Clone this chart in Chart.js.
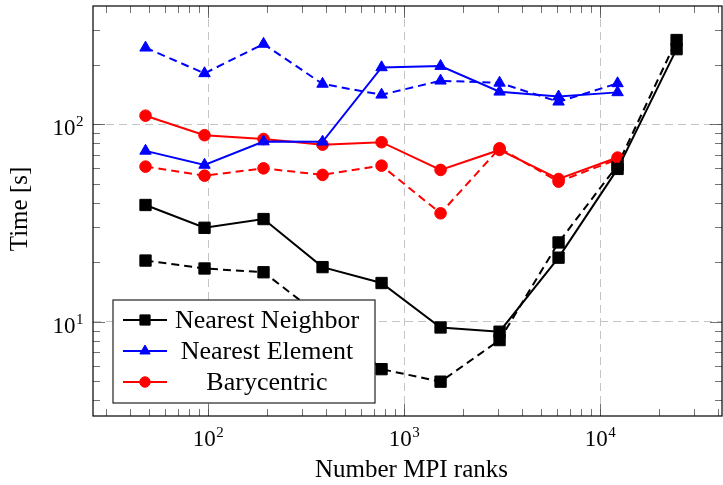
<!DOCTYPE html>
<html lang="en">
<head>
<meta charset="UTF-8">
<title>Time vs MPI ranks</title>
<script src="https://cdn.jsdelivr.net/npm/chart.js"></script>
<style>
  html, body { margin: 0; padding: 0; background: #fff; }
  canvas { display: block; }
</style>
</head>
<body>
<canvas id="grafico" width="723" height="485"></canvas>
<script>
// data
const ranks = [48, 96, 192, 384, 768, 1536, 3072, 6144, 12288, 24576];

const neighborSolid  = [39.0, 29.9, 33.1, 18.9, 15.7, 9.35, 8.9, 21.1, 59.4, 240];
const neighborDashed = [20.4, 18.6, 17.8, 10.5, 5.75, 4.97, 8.07, 25.2, 62, 267];
const elementSolid   = [73.3, 62.2, 81.7, 81.5, 194, 197, 146, 138, 145, null];
const elementDashed  = [244, 181, 255, 160, 141, 166, 162, 130, 161, null];
const baryceSolid    = [110.5, 88, 84.2, 78.8, 81.1, 58.7, 74.1, 52.8, 67.8, null];
const baryceDashed   = [61, 54.9, 59.8, 55.4, 61.7, 35.4, 75.6, 51.2, 66.5, null];

const legendLabels = ['Nearest Neighbor', 'Nearest Element', 'Barycentric'];
const xDecades = [100, 1000, 10000];
const yDecades = [10, 100];

const SERIF = '"Liberation Serif", "DejaVu Serif", serif';

function pares(valores) {
  const out = [];
  for (let i = 0; i < ranks.length; i++) {
    if (valores[i] !== null) out.push({ x: ranks[i], y: valores[i] });
  }
  return out;
}

function serie(label, valores, cor, estilo, raio, tracejado) {
  return {
    label: label,
    data: pares(valores),
    borderColor: cor,
    backgroundColor: cor,
    borderWidth: 2,
    borderDash: tracejado ? [8, 5] : [],
    pointStyle: estilo,
    pointRadius: raio,
    pointBorderWidth: 1,
    pointBorderColor: cor,
    pointBackgroundColor: cor,
    tension: 0,
    fill: false
  };
}

const dados = {
  datasets: [
    serie(legendLabels[0], neighborSolid, '#000000', 'rect', 8, false),
    serie(legendLabels[1], elementSolid, '#0000ff', 'triangle', 6.6, false),
    serie(legendLabels[2], baryceSolid, '#ff0000', 'circle', 5.8, false),
    serie(legendLabels[0] + ' (dashed)', neighborDashed, '#000000', 'rect', 8, true),
    serie(legendLabels[1] + ' (dashed)', elementDashed, '#0000ff', 'triangle', 6.6, true),
    serie(legendLabels[2] + ' (dashed)', baryceDashed, '#ff0000', 'circle', 5.8, true)
  ]
};

// frame, inside ticks, tick labels, axis titles and legend box
const moldura = {
  id: 'moldura',
  afterDraw(chart) {
    const ctx = chart.ctx;
    const a = chart.chartArea;
    const xs = chart.scales.x;
    const ys = chart.scales.y;
    ctx.save();

    // minor + major ticks on all four sides
    ctx.strokeStyle = 'rgba(0,0,0,0.55)';
    ctx.lineWidth = 1;
    function tickX(v, len) {
      const px = Math.round(xs.getPixelForValue(v)) + 0.5;
      if (px < a.left || px > a.right) return;
      ctx.beginPath();
      ctx.moveTo(px, a.bottom); ctx.lineTo(px, a.bottom - len);
      ctx.moveTo(px, a.top); ctx.lineTo(px, a.top + len);
      ctx.stroke();
    }
    function tickY(v, len) {
      const py = Math.round(ys.getPixelForValue(v)) + 0.5;
      if (py < a.top || py > a.bottom) return;
      ctx.beginPath();
      ctx.moveTo(a.left, py); ctx.lineTo(a.left + len, py);
      ctx.moveTo(a.right, py); ctx.lineTo(a.right - len, py);
      ctx.stroke();
    }
    for (let d = 10; d <= 100000; d *= 10) {
      for (let m = 1; m < 10; m++) tickX(d * m, m === 1 ? 12 : 7);
    }
    for (let d = 1; d <= 1000; d *= 10) {
      for (let m = 1; m < 10; m++) tickY(d * m, m === 1 ? 12 : 7);
    }

    // frame
    ctx.strokeStyle = '#000';
    ctx.lineWidth = 1.2;
    ctx.strokeRect(a.left, a.top, a.right - a.left, a.bottom - a.top);

    // tick labels 10^n
    ctx.fillStyle = '#000';
    ctx.textBaseline = 'alphabetic';
    function potencia(expo, x, y, alinhar) {
      ctx.font = '23px ' + SERIF;
      const wb = ctx.measureText('10').width;
      ctx.font = '15px ' + SERIF;
      const we = ctx.measureText(String(expo)).width;
      let x0 = alinhar === 'right' ? x - wb - we : x - (wb + we) / 2;
      ctx.textAlign = 'left';
      ctx.font = '23px ' + SERIF;
      ctx.fillText('10', x0, y);
      ctx.font = '15px ' + SERIF;
      ctx.fillText(String(expo), x0 + wb + 0.5, y - 9);
    }
    xDecades.forEach(function (v) {
      potencia(Math.round(Math.log10(v)), xs.getPixelForValue(v), 446, 'center');
    });
    yDecades.forEach(function (v) {
      potencia(Math.round(Math.log10(v)), 83, ys.getPixelForValue(v) + 11, 'right');
    });

    // axis titles
    ctx.font = '25px ' + SERIF;
    ctx.textAlign = 'center';
    ctx.fillText('Number MPI ranks', (a.left + a.right) / 2 + 4, 477);
    ctx.save();
    ctx.translate(27, (a.top + a.bottom) / 2 - 2);
    ctx.rotate(-Math.PI / 2);
    ctx.fillText('Time [s]', 0, 0);
    ctx.restore();

    // legend
    const caixa = { l: 113, t: 300, r: 375, b: 403 };
    ctx.fillStyle = '#fff';
    ctx.fillRect(caixa.l, caixa.t, caixa.r - caixa.l, caixa.b - caixa.t);
    ctx.strokeStyle = '#222';
    ctx.lineWidth = 1.2;
    ctx.strokeRect(caixa.l, caixa.t, caixa.r - caixa.l, caixa.b - caixa.t);
    const linhas = [320, 351, 382];
    for (let i = 0; i < 3; i++) {
      const ds = chart.data.datasets[i];
      const y = linhas[i];
      ctx.strokeStyle = ds.borderColor;
      ctx.lineWidth = 2;
      ctx.setLineDash([]);
      ctx.beginPath();
      ctx.moveTo(123, y); ctx.lineTo(167, y);
      ctx.stroke();
      ctx.fillStyle = ds.backgroundColor;
      ctx.lineWidth = 1;
      Chart.helpers.drawPoint(ctx, {
        pointStyle: ds.pointStyle,
        radius: ds.pointRadius * 0.9,
        borderWidth: 1,
        rotation: 0
      }, 145, y);
      ctx.fillStyle = '#000';
      ctx.font = '26px ' + SERIF;
      ctx.textAlign = 'center';
      ctx.fillText(legendLabels[i], 267, y + 8);
    }
    ctx.restore();
  }
};

const config = {
  type: 'line',
  data: dados,
  options: {
    responsive: false,
    animation: false,
    layout: { autoPadding: false, padding: { top: 6, right: 1, left: 0, bottom: 0 } },
    plugins: {
      legend: { display: false },
      tooltip: { enabled: false }
    },
    scales: {
      x: {
        type: 'logarithmic',
        min: 25.9,
        max: 41900,
        afterBuildTicks: function (scale) {
          scale.ticks = xDecades.map(function (v) { return { value: v }; });
        },
        afterFit: function (scale) { scale.height = 69; },
        ticks: { display: false },
        grid: { color: '#c4c4c4', lineWidth: 1, drawTicks: false },
        border: { display: false, dash: [8, 5] }
      },
      y: {
        type: 'logarithmic',
        min: 3.33,
        max: 397,
        afterBuildTicks: function (scale) {
          scale.ticks = yDecades.map(function (v) { return { value: v }; });
        },
        afterFit: function (scale) { scale.width = 93; },
        ticks: { display: false },
        grid: { color: '#c4c4c4', lineWidth: 1, drawTicks: false },
        border: { display: false, dash: [8, 5] }
      }
    }
  },
  plugins: [moldura]
};

new Chart(document.getElementById('grafico'), config);
</script>
</body>
</html>
